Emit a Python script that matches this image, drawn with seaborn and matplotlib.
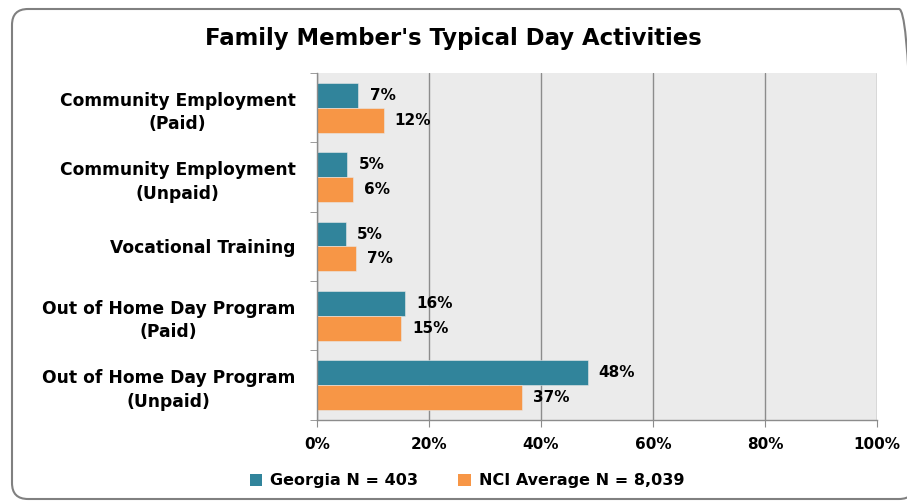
"""
Family member's typical day activities -- Georgia vs NCI average
"""
import numpy  as np
import pandas as pd
import matplotlib.pyplot as plt
import seaborn           as sns
from matplotlib.patches   import FancyBboxPatch, Patch
from matplotlib.ticker    import FixedLocator, PercentFormatter
from matplotlib.transforms import IdentityTransform


# ================================================================================
# Data (in %)
# ================================================================================
categories = [
    "Community Employment\n(Paid)",
    "Community Employment\n(Unpaid)",
    "Vocational Training",
    "Out of Home Day Program\n(Paid)",
    "Out of Home Day Program\n(Unpaid)",
]
georgia_vals = [7.4, 5.4, 5.2, 15.7, 48.3]
nci_vals     = [11.9, 6.4, 6.9, 15.0, 36.6]
series_names = ["Georgia N = 403", "NCI Average N = 8,039"]
x_ticks      = [0, 20, 40, 60, 80, 100]

colors = ["#31849B", "#F79646"]

df = pd.DataFrame({
    "Activity" : categories * 2,
    "Percent"  : georgia_vals + nci_vals,
    "Group"    : [series_names[0]] * len(categories) + [series_names[1]] * len(categories),
})


# ================================================================================
# Plot
# ================================================================================
sns.set_style("white")
plt.rcParams["font.family"] = ["DejaVu Sans"]
plt.rcParams["font.weight"] = "bold"
plt.rcParams["text.color"]  = "black"
plt.rcParams["xtick.color"] = "#8C8C8C"
plt.rcParams["xtick.labelcolor"] = "black"
plt.rcParams["ytick.labelcolor"] = "black"

fig = plt.figure(figsize=(9.07, 5.01), dpi=100)
ax  = fig.add_axes([0.3495, 0.162, 0.6175, 0.692])

sns.barplot(
    data       = df,
    y          = "Activity",
    x          = "Percent",
    hue        = "Group",
    orient     = "h",
    palette    = colors,
    saturation = 1,
    width      = 0.72,
    edgecolor  = "#e8e8e8",
    linewidth  = 0.4,
    ax         = ax,
    legend     = False,
)

# Background + gridlines
ax.set_facecolor("#EBEBEB")
ax.set_xlim(0, 100)
ax.set_ylim(len(categories) - 0.5, -0.5)
ax.xaxis.set_major_locator(FixedLocator(x_ticks))
ax.xaxis.set_major_formatter(PercentFormatter(decimals=0))
ax.grid(axis="x", color="#8C8C8C", linewidth=1.0)
ax.set_axisbelow(True)

for side in ["top", "right"]:
    ax.spines[side].set_visible(False)
for side in ["left", "bottom"]:
    ax.spines[side].set_color("#8C8C8C")
    ax.spines[side].set_linewidth(1.0)

# Tick marks: x at gridlines, y at category boundaries
ax.tick_params(axis="x", which="major", bottom=True, length=5, color="#8C8C8C",
               labelsize=11, pad=7)
ax.yaxis.set_minor_locator(FixedLocator(np.arange(-0.5, len(categories), 1.0)))
ax.tick_params(axis="y", which="minor", left=True, length=5, color="#8C8C8C")
ax.tick_params(axis="y", which="major", left=False, labelsize=12.3, pad=12)
for lbl in ax.get_yticklabels():
    lbl.set_multialignment("center")
    lbl.set_linespacing(1.4)
    lbl.set_fontweight("bold")
for lbl in ax.get_xticklabels():
    lbl.set_fontweight("bold")

ax.set_xlabel("")
ax.set_ylabel("")

# Value labels after each bar
for container in ax.containers:
    ax.bar_label(container, labels=[f"{v:.0f}%" for v in container.datavalues],
                 padding=8, fontsize=11, fontweight="bold", color="black")

# Title
fig.text(0.5, 0.924, "Family Member's Typical Day Activities",
         ha="center", va="center", fontsize=16.4, fontweight="bold")

# Legend
handles = [Patch(facecolor=c, edgecolor="none") for c in colors]
fig.legend(handles, series_names, loc="center", bbox_to_anchor=(0.515, 0.04),
           ncol=2, frameon=False, handlelength=0.8, handleheight=0.8,
           columnspacing=2.5, handletextpad=0.5, prop={"weight": "bold", "size": 11.5})

# Rounded border around the chart, in pixels (right edge runs just past the image)
border = FancyBboxPatch(
    (12, 2), 903, 490,
    boxstyle="round,pad=0,rounding_size=16",
    transform=IdentityTransform(), facecolor="none", edgecolor="#808080",
    linewidth=1.5, clip_on=False,
)
fig.patches.append(border)

fig.savefig("out.png", dpi=100)
